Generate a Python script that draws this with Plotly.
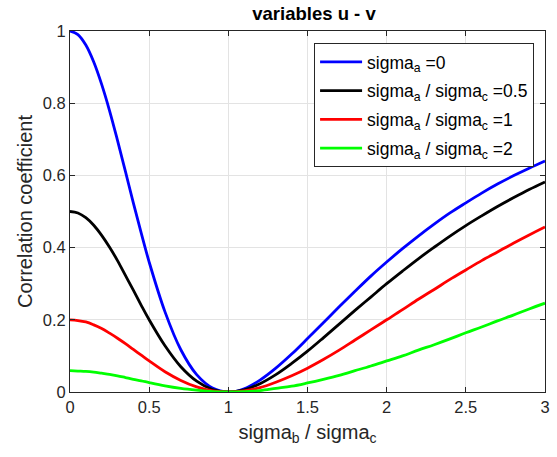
import plotly.graph_objects as go

ratio_b = [0.0, 0.05, 0.1, 0.15, 0.2, 0.25, 0.3, 0.35, 0.4, 0.45, 0.5,
           0.6, 0.7, 0.8, 0.9, 1.0,
           1.1, 1.2, 1.3, 1.4, 1.5, 1.6, 1.7, 1.8, 1.9, 2.0,
           2.1, 2.2, 2.3, 2.4, 2.5, 2.6, 2.7, 2.8, 2.9, 3.0]

corr_a0 = [1.0, 0.990, 0.961, 0.914, 0.852, 0.779, 0.697, 0.611, 0.524, 0.440, 0.360,
           0.222, 0.117, 0.048, 0.011, 0.0,
           0.009, 0.033, 0.066, 0.105, 0.148, 0.192, 0.236, 0.279, 0.321, 0.360,
           0.397, 0.432, 0.465, 0.496, 0.524, 0.551, 0.576, 0.599, 0.620, 0.640]
corr_a05 = [0.500, 0.496, 0.483, 0.462, 0.434, 0.401, 0.364, 0.323, 0.282, 0.240, 0.200,
            0.128, 0.070, 0.030, 0.007, 0.0,
            0.006, 0.023, 0.048, 0.079, 0.113, 0.150, 0.188, 0.226, 0.263, 0.300,
            0.335, 0.369, 0.401, 0.432, 0.461, 0.488, 0.514, 0.538, 0.561, 0.582]
corr_a1 = [0.200, 0.198, 0.194, 0.186, 0.176, 0.163, 0.149, 0.134, 0.118, 0.102, 0.086,
           0.056, 0.032, 0.014, 0.003, 0.0,
           0.003, 0.012, 0.027, 0.045, 0.066, 0.090, 0.116, 0.144, 0.172, 0.200,
           0.228, 0.257, 0.284, 0.312, 0.338, 0.364, 0.388, 0.412, 0.435, 0.457]
corr_a2 = [0.059, 0.058, 0.057, 0.055, 0.052, 0.049, 0.045, 0.040, 0.035, 0.031, 0.026,
           0.017, 0.010, 0.005, 0.001, 0.0,
           0.001, 0.004, 0.010, 0.016, 0.025, 0.035, 0.046, 0.059, 0.072, 0.086,
           0.100, 0.116, 0.131, 0.147, 0.164, 0.180, 0.197, 0.213, 0.230, 0.246]

series_names = ["sigma<sub>a</sub> =0",
                "sigma<sub>a</sub> / sigma<sub>c</sub> =0.5",
                "sigma<sub>a</sub> / sigma<sub>c</sub> =1",
                "sigma<sub>a</sub> / sigma<sub>c</sub> =2"]
series_vals = [corr_a0, corr_a05, corr_a1, corr_a2]
series_colors = ["#0000ff", "#000000", "#ff0000", "#00ff00"]

x_ticks = [0, 0.5, 1, 1.5, 2, 2.5, 3]
y_ticks = [0, 0.2, 0.4, 0.6, 0.8, 1]

font_family = "Liberation Sans, Arial, Helvetica, sans-serif"

fig = go.Figure()
for i, (name, vals, col) in enumerate(zip(series_names, series_vals, series_colors)):
    fig.add_trace(go.Scatter(x=ratio_b, y=vals, mode="lines", name=name,
                             legendgroup=f"g{i}",
                             line=dict(color=col, width=2.8, shape="spline", smoothing=1.0)))

axis_common = dict(showgrid=True, gridcolor="#e3e3e3", gridwidth=1,
                   showline=True, linecolor="#262626", linewidth=1, mirror="ticks",
                   ticks="inside", ticklen=5, tickcolor="#262626",
                   tickfont=dict(family=font_family, size=16.5, color="#262626"),
                   zeroline=False)

fig.update_layout(
    width=557, height=457,
    margin=dict(l=70, r=7, t=31, b=65),
    paper_bgcolor="white", plot_bgcolor="white",
    title=dict(text="<b>variables u - v</b>", x=(74 + 240) / 557, xanchor="center",
               y=1 - 14 / 457, yanchor="middle",
               font=dict(family=font_family, size=18.5, color="#000000")),
    xaxis=dict(range=[0, 3], tickvals=x_ticks,
               title=dict(text="sigma<sub>b</sub> / sigma<sub>c</sub>", standoff=10,
                          font=dict(family=font_family, size=20, color="#262626")),
               **axis_common),
    yaxis=dict(range=[0, 1], tickvals=y_ticks,
               title=dict(text="Correlation coefficient", standoff=4,
                          font=dict(family=font_family, size=20, color="#262626")),
               **axis_common),
    legend=dict(x=0.977, y=0.967, xanchor="right", yanchor="top",
                bgcolor="white", bordercolor="#262626", borderwidth=1,
                font=dict(family=font_family, size=17.5, color="#000000"),
                itemwidth=42, tracegroupgap=3),
    showlegend=True,
)

fig.write_html("out.html")
